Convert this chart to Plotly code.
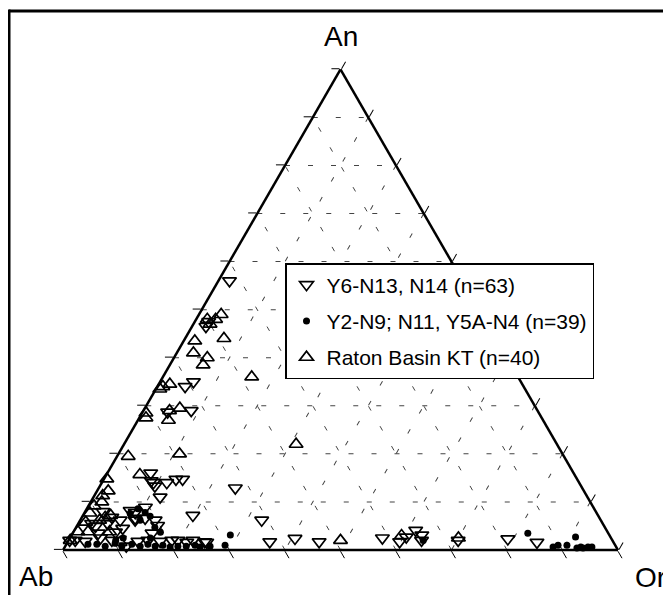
import plotly.graph_objects as go

# ---- data: (An, Ab, Or) in percent ----
y6_an = [56, 47.5, 46.5, 34, 35, 29, 28.7, 16, 14, 14, 14.7, 14.7, 12.9, 11, 7.2, 6.2, 1.7, 1.7, 2.4, 1.7,
         2.5, 1.7, 4.1, 3.1, 2, 2.3, 1.6, 5.5, 6.8, 5.5, 3.5, 4.5, 2, 0.8, 3.5, 6.2, 6.2, 7.8, 2, 1.6,
         1.6, 14.4, 13.3, 2, 1.8, 2.5, 2, 1.8, 2, 1.8, 2, 2, 8.2, 8.9, 6.6, 6.6, 5.1, 8, 4.9, 6.2,
         3.7, 2, 2.7]
y6_ab = [42, 50, 51, 61, 59, 62.4, 66.8, 76.2, 76.7, 74.3, 72.3, 71.1, 62.5, 77, 73, 61.1, 73.6, 61.9, 57, 53,
         41.2, 38.5, 34.4, 33.8, 27.8, 18.7, 13.8, 92.1, 87.8, 89.2, 91.9, 87, 97.8, 88.2, 82.2, 83.9, 80.3, 83.1, 79.4, 76.9,
         73.3, 76.9, 76.8, 96.8, 95.1, 92, 90.2, 85.6, 83.7, 81.6, 78.3, 75.6, 83.8, 80.7, 83.7, 81.9, 80.4, 88.8, 91.7, 86.6,
         88.7, 34.4, 36.8]
y6_or = [2, 2.5, 2.5, 5, 6, 8.6, 4.5, 7.8, 9.3, 11.7, 13, 14.2, 24.6, 12, 19.8, 32.7, 24.7, 36.4, 40.6, 45.3,
         56.3, 59.8, 61.5, 63.1, 70.2, 79, 84.6, 2.4, 5.4, 5.3, 4.6, 8.5, 0.2, 11, 14.3, 9.9, 13.5, 9.1, 18.6, 21.5,
         25.1, 8.7, 9.9, 1.2, 3.1, 5.5, 7.8, 12.6, 14.3, 16.6, 19.7, 22.4, 8, 10.4, 9.7, 11.5, 14.5, 3.2, 3.4, 7.2,
         7.6, 63.6, 60.5]

y2_an = [3.1, 1, 2, 3.5, 0.6, 1, 1, 2.7, 0.4, 0.6, 0.4, 0.6, 0.6, 1.2, 0.8, 1.4, 0.8, 1.2, 0.8, 1.2,
         0.8, 1, 0.6, 0.8, 0.8, 1, 0.6, 0.8, 7.6, 8.6, 7.8, 7, 6.2, 4.7, 3.7, 2.5, 2, 1.2, 2.5]
y2_ab = [68.3, 70.3, 34.1, 14.5, 11.4, 10.3, 8.7, 6.3, 7.2, 6.4, 6.1, 5.1, 4.4, 93.3, 92, 89.9, 89, 87, 85.7, 84.1,
         83, 81.5, 80.4, 78.9, 77.4, 75.7, 75, 73.1, 84.1, 82.2, 81.3, 80.8, 83, 81.1, 80.6, 83, 89.5, 94.9, 87.9]
y2_or = [28.6, 28.7, 63.9, 82, 88, 88.7, 90.3, 91, 92.4, 93, 93.5, 94.3, 95, 5.5, 7.2, 8.7, 10.2, 11.8, 13.5, 14.7,
         16.2, 17.5, 19, 20.3, 21.8, 23.3, 24.4, 26.1, 8.3, 9.2, 10.9, 12.2, 10.8, 14.2, 15.7, 14.5, 8.5, 3.9, 9.6]

rb_an = [48, 47, 48, 49, 43.5, 44, 41, 40, 38.5, 36, 34, 34.5, 33.5, 28.5, 27.5, 29, 27, 29.5, 22, 20,
         19.5, 15.7, 14.8, 12.3, 11.3, 10, 9.2, 7.7, 7.2, 6.2, 5.8, 3.8, 3.8, 3.8, 2, 2, 3, 2.5, 6.8, 1.6]
rb_ab = [50, 50, 48.5, 47, 54.5, 49, 56, 54, 55.5, 48, 65, 63.5, 65.8, 70.8, 71.3, 66.3, 67.5, 64.2, 47, 69,
         78.5, 78.3, 84.7, 85.7, 87.2, 88, 89.8, 91.3, 87.8, 90.3, 93, 95.4, 93.6, 89.7, 97.7, 49, 37.5, 27.5, 89, 88.9]
rb_or = [2, 3, 3.5, 4, 2, 7, 3, 6, 6, 16, 1, 2, 0.7, 0.7, 1.2, 4.7, 5.5, 6.3, 31, 11,
         2, 6, 0.5, 2, 1.5, 2, 1, 1, 5, 3.5, 1.2, 0.8, 2.6, 6.5, 0.3, 49, 59.5, 70, 4.2, 9.5]

names = ["Y6-N13, N14 (n=63)", "Y2-N9; N11, Y5A-N4 (n=39)", "Raton Basin KT (n=40)"]
apex_labels = ["An", "Ab", "Or"]

FONT = "Arial, Liberation Sans, sans-serif"
OFF = 8                      # default page body margin
FW, FH = 671 - OFF, 595 - OFF


def px(sx):
    return (sx - OFF) / FW


def py(sy):
    return 1 - (sy - OFF) / FH


fig = go.Figure()
fig.add_trace(go.Scatterternary(
    a=y6_an, b=y6_ab, c=y6_or, mode="markers", name=names[0], legendgroup="g1",
    cliponaxis=False,
    marker=dict(symbol="triangle-down-open", size=12, color="black", line=dict(width=1.7, color="black"))))
fig.add_trace(go.Scatterternary(
    a=y2_an, b=y2_ab, c=y2_or, mode="markers", name=names[1], legendgroup="g2",
    cliponaxis=False,
    marker=dict(symbol="circle", size=7, color="black")))
fig.add_trace(go.Scatterternary(
    a=rb_an, b=rb_ab, c=rb_or, mode="markers", name=names[2], legendgroup="g3",
    cliponaxis=False,
    marker=dict(symbol="triangle-up-open", size=12, color="black", line=dict(width=1.7, color="black"))))

ax = dict(
    title=dict(text=""), min=0, showticklabels=False,
    ticks="outside", ticklen=8, tickwidth=1.3, tickcolor="black", dtick=10,
    linecolor="black", linewidth=2.5, showline=True,
    showgrid=True, gridcolor="#444444", gridwidth=0.8, griddash="5px,18px",
)

tri_w = 618 - 63
fig.update_layout(
    width=FW, height=FH,
    margin=dict(l=0, r=0, t=0, b=0),
    paper_bgcolor="white", plot_bgcolor="white",
    font=dict(family=FONT, color="black"),
    ternary=dict(
        sum=100, bgcolor="white",
        domain=dict(x=[px(63), px(618)], y=[py(550), py(550 - tri_w * 0.8660254)]),
        aaxis=ax, baxis=ax, caxis=ax,
    ),
    legend=dict(
        x=px(285), y=py(263), xanchor="left", yanchor="top",
        bgcolor="white", bordercolor="black", borderwidth=1.5,
        font=dict(family=FONT, size=21, color="black"),
        tracegroupgap=6, itemsizing="trace",
    ),
    showlegend=True,
)

for txt, sx, sy in [(apex_labels[0], 341, 36), (apex_labels[1], 36, 576), (apex_labels[2], 650, 577)]:
    fig.add_annotation(text=txt, x=px(sx), y=py(sy), xref="paper", yref="paper",
                       xanchor="center", yanchor="middle",
                       showarrow=False, font=dict(family=FONT, size=28, color="black"))

# outer frame (top and left edges visible)
fig.add_shape(type="line", xref="paper", yref="paper",
              x0=px(9), x1=1.05, y0=py(11), y1=py(11),
              line=dict(color="black", width=3))
fig.add_shape(type="line", xref="paper", yref="paper",
              x0=px(9), x1=px(9), y0=-0.05, y1=py(9.5),
              line=dict(color="black", width=3))

fig.write_html("out.html")
